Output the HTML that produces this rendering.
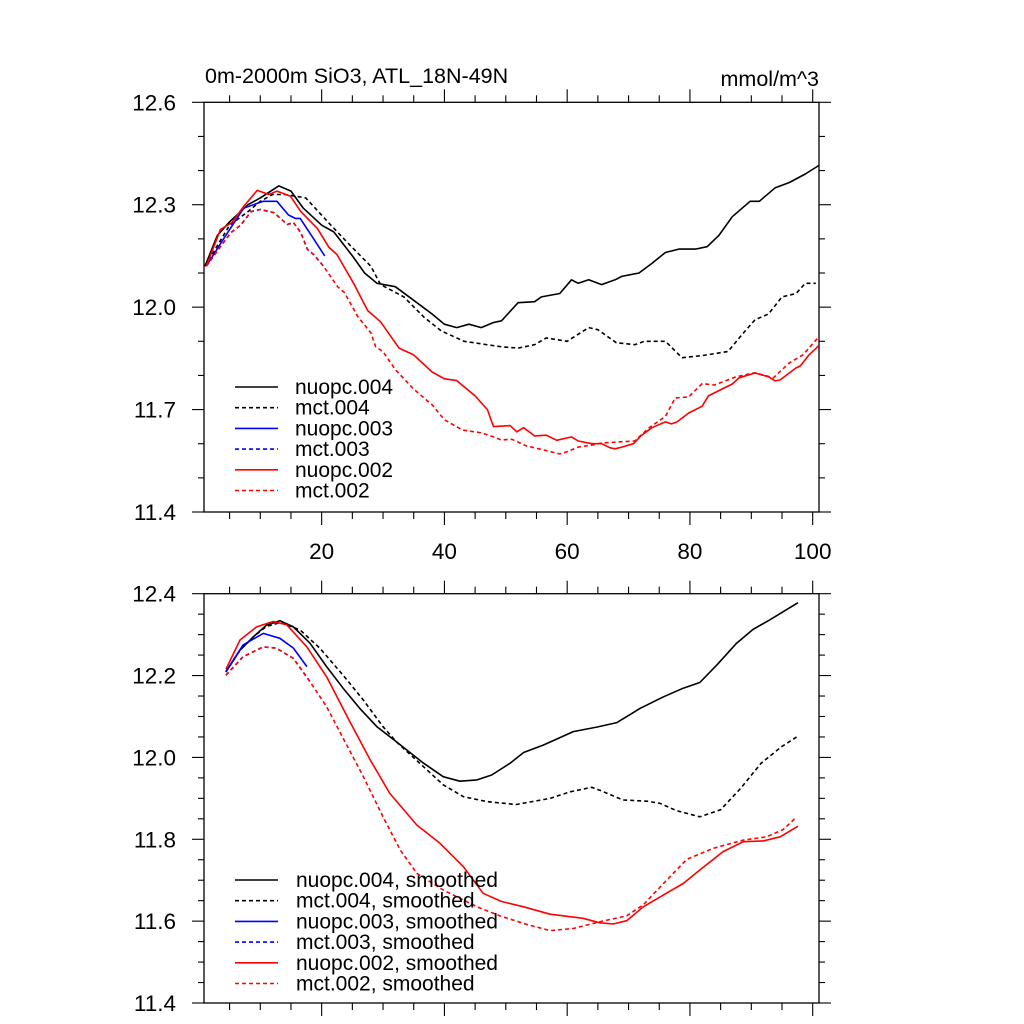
<!DOCTYPE html>
<html><head><meta charset="utf-8"><style>
html,body{margin:0;padding:0;background:#fff;}
svg{display:block;font-family:"Liberation Sans",Arial,sans-serif;}
</style></head><body>
<svg id="chart" width="1024" height="1024" viewBox="0 0 1024 1024" xmlns="http://www.w3.org/2000/svg">
<text x="205" y="83" font-size="21.5">0m-2000m SiO3, ATL_18N-49N</text>
<text x="819" y="86" font-size="21.5" text-anchor="end">mmol/m^3</text>
<g id="top"></g>
<g id="bot"></g>
</svg>
<script>
// ---- data: top panel (annual) ----
const nu4Yr=[1,3,5,8,10,13,15,17,20,22,25,27,29,32,35,38,40,42,44,46,48,49.3,52,54.7,55.8,58.8,60.7,61.8,63.5,65.6,67.8,68.9,71.7,73.8,76,78.2,80.9,82.8,84.7,86.9,89.8,91.3,93.9,96.2,98.8,101];
const nu4Val=[12.12,12.21,12.25,12.30,12.32,12.355,12.34,12.29,12.24,12.22,12.15,12.10,12.07,12.06,12.02,11.98,11.95,11.94,11.95,11.94,11.955,11.96,12.013,12.016,12.03,12.04,12.08,12.07,12.08,12.066,12.08,12.09,12.10,12.128,12.16,12.17,12.17,12.177,12.21,12.265,12.31,12.31,12.35,12.365,12.39,12.415];
const mc4Yr=[1,5,8,10,12,14,17.4,21.5,24.7,28,29.6,33.4,36.7,39.5,43.2,49.3,52,54.7,56.6,60,63.5,65,68,71,72.6,76,78.7,82,86.2,88.5,90.6,92.8,95,97.3,98.8,100.5];
const mc4Val=[12.12,12.24,12.28,12.31,12.33,12.33,12.32,12.24,12.18,12.12,12.066,12.03,11.97,11.93,11.90,11.884,11.88,11.89,11.91,11.90,11.94,11.934,11.896,11.89,11.90,11.90,11.852,11.858,11.87,11.92,11.963,11.98,12.03,12.04,12.07,12.07];
const nu3Yr=[1.2,4,7.3,10.5,12.7,14.6,15.7,16.5,18.7,20.5];
const nu3Val=[12.12,12.20,12.29,12.31,12.31,12.27,12.26,12.26,12.20,12.15];
const nu2Yr=[1.2,3.5,5.4,7.3,9.5,11.4,12.7,14.9,16.6,19.3,21.2,22.5,25.2,27.5,29.6,32.6,35,38,40,42,45,47,48,50.7,51.8,52.9,54.7,56.6,58.3,60.7,61.8,64,65.6,67,67.8,68.9,70.8,72,73.8,76,77,77.9,79.8,82,83,85.2,86.9,88,90.6,92.8,93.9,94.7,97.3,98,99.4,101];
const nu2Val=[12.12,12.227,12.248,12.295,12.342,12.33,12.34,12.325,12.28,12.23,12.175,12.154,12.07,11.99,11.957,11.88,11.86,11.81,11.79,11.785,11.74,11.70,11.65,11.653,11.635,11.647,11.623,11.625,11.61,11.62,11.608,11.60,11.60,11.588,11.585,11.59,11.60,11.623,11.647,11.664,11.658,11.664,11.69,11.71,11.74,11.76,11.775,11.793,11.807,11.796,11.784,11.787,11.822,11.828,11.86,11.887];
const mc2Yr=[1.2,3.5,5.2,6.8,8.5,10,12.2,14.4,15.4,16.6,17.7,18.7,20.3,22.6,23.7,25.9,28,28.8,30,32,35,38,40,43,46,48,49.3,51,53.3,56.8,58.8,59.9,61.8,64,65.6,71,73.3,76,77.6,79.8,82,84,87.5,90.6,93.6,96.2,98.4,101];
const mc2Val=[12.12,12.177,12.218,12.24,12.28,12.286,12.277,12.242,12.248,12.218,12.169,12.154,12.12,12.06,12.043,11.972,11.925,11.884,11.87,11.817,11.76,11.714,11.67,11.64,11.632,11.62,11.611,11.613,11.594,11.579,11.57,11.576,11.59,11.596,11.602,11.608,11.646,11.68,11.734,11.737,11.776,11.772,11.796,11.808,11.793,11.837,11.86,11.913];
const mc3Yr=mc2Yr.slice(0,13);
const mc3Val=mc2Val.slice(0,13);
// ---- data: bottom panel (smoothed) ----
const snu4Yr=[4.4,6.7,8.9,11,13.2,15.4,18.1,20.8,23.5,26.2,29,32.2,36.6,39.8,42.5,45.3,47.7,50.7,52.9,56.1,61,64.8,68.1,71.9,75.7,78.9,81.6,84.4,87.6,90.3,93,95.2,97.6];
const snu4Val=[12.209,12.262,12.295,12.323,12.334,12.319,12.279,12.222,12.169,12.12,12.075,12.038,11.986,11.953,11.942,11.945,11.957,11.986,12.012,12.03,12.063,12.074,12.085,12.12,12.148,12.169,12.183,12.226,12.279,12.313,12.336,12.356,12.378];
const smc4Yr=[4.4,6.7,8.9,11,13.4,16.5,19.7,23.5,26.8,30,32.2,36.6,39.8,43.1,46.9,51.7,57.2,60.5,64,65.3,69.1,73,75.1,77.8,81.6,85,88.3,91.6,94.9,97.6];
const smc4Val=[12.209,12.262,12.295,12.32,12.33,12.311,12.267,12.201,12.14,12.075,12.038,11.977,11.933,11.904,11.892,11.885,11.90,11.916,11.927,11.92,11.896,11.893,11.888,11.87,11.855,11.872,11.925,11.986,12.026,12.052];
const snu3Yr=[4.4,7.2,10.5,13.2,15.4,17.6];
const snu3Val=[12.21,12.275,12.303,12.291,12.267,12.222];
const snu2Yr=[4.4,6.7,9.4,12.1,14.3,17.6,20.8,24.6,27.9,31.1,35.5,39.3,43.1,46.3,49.3,52.9,57.2,62.6,65.3,67.5,69.7,72.4,75.7,78.9,81.6,85.4,88.7,92,94.7,97.6];
const snu2Val=[12.215,12.287,12.319,12.332,12.324,12.27,12.197,12.087,11.994,11.912,11.835,11.79,11.733,11.668,11.648,11.635,11.617,11.607,11.596,11.593,11.601,11.635,11.664,11.692,11.725,11.77,11.794,11.796,11.806,11.832];
const smc2Yr=[4.4,7.2,10.5,12.6,15.4,18.1,20.8,23.5,26.8,30,32.8,35.5,39.8,45.3,49,53.4,57.2,61,65.5,69.7,72.4,76.2,79.5,83.8,88.7,92.5,95.2,97.4];
const smc2Val=[12.201,12.246,12.27,12.267,12.242,12.185,12.124,12.047,11.953,11.855,11.774,11.717,11.676,11.635,11.613,11.592,11.577,11.582,11.599,11.613,11.64,11.70,11.751,11.778,11.798,11.806,11.824,11.855];
const smc3Yr=smc2Yr.slice(0,6);
const smc3Val=smc2Val.slice(0,6);
const xMajor=[20,40,60,80,100];
const topYMajor=[12.6,12.3,12.0,11.7,11.4];
const topYLabels=["12.6","12.3","12.0","11.7","11.4"];
const botYMajor=[12.4,12.2,12.0,11.8,11.6,11.4];
const botYLabels=["12.4","12.2","12.0","11.8","11.6","11.4"];
const topLegend=["nuopc.004","mct.004","nuopc.003","mct.003","nuopc.002","mct.002"];
const botLegend=["nuopc.004, smoothed","mct.004, smoothed","nuopc.003, smoothed","mct.003, smoothed","nuopc.002, smoothed","mct.002, smoothed"];

const NS="http://www.w3.org/2000/svg";
const L=204,R=819;
const xS=yr=>198.9+6.138*yr;
function mk(tag,parent,attrs){const e=document.createElementNS(NS,tag);for(const k in attrs)e.setAttribute(k,attrs[k]);parent.appendChild(e);return e;}

function panel(g,top,bottom,vmax,vmin,minorStep,yMajor,yLabels,showX,series,legend,legY,legText,prefix){
  const yS=v=>top+(vmax-v)/(vmax-vmin)*(bottom-top);
  const fr=mk('rect',g,{x:L,y:top,width:R-L,height:bottom-top,fill:'none',stroke:'#000','stroke-width':1.3});
  
  
  const n=Math.round((vmax-vmin)/minorStep);
  for(let i=0;i<=n;i++){
    const v=vmax-i*minorStep, y=yS(v);
    const major=yMajor.some(m=>Math.abs(m-v)<1e-6);
    const len=major?12:6;
    const t1=mk('line',g,{x1:L-len,x2:L,y1:y,y2:y,stroke:'#000','stroke-width':1.1});
    
    
    const t2=mk('line',g,{x1:R,x2:R+len,y1:y,y2:y,stroke:'#000','stroke-width':1.1});
    
    
  }
  yMajor.forEach((v,i)=>{
    const t=mk('text',g,{x:176,y:yS(v)+8,'font-size':22.5,'text-anchor':'end'});
    t.textContent=yLabels[i];
    
    
  });
  for(let yr=5;yr<=100;yr+=5){
    const x=xS(yr); const major=xMajor.includes(yr); const len=major?13:7;
    const a=mk('line',g,{x1:x,x2:x,y1:top-len,y2:top,stroke:'#000','stroke-width':1.1});
    
    
    const b=mk('line',g,{x1:x,x2:x,y1:bottom,y2:bottom+len,stroke:'#000','stroke-width':1.1});
    
    
  }
  if(showX){
    xMajor.forEach(v=>{
      const t=mk('text',g,{x:xS(v),y:bottom+47,'font-size':22.5,'text-anchor':'middle'});
      t.textContent=String(v);
      
      
    });
  }
  series.forEach((s,i)=>{
    const d=s.yr.map((yr,j)=>(j?'L':'M')+xS(yr).toFixed(1)+','+yS(s.v[j]).toFixed(1)).join(' ');
    const p=mk('path',g,{d:d,fill:'none',stroke:s.c,'stroke-width':1.6,'stroke-linejoin':'round'});
    if(s.dash)p.setAttribute('stroke-dasharray','4 3');
    
    
  });
  legend.forEach((lab,i)=>{
    const s=series[i]; const y=legY+i*20.7;
    const ln=mk('line',g,{x1:235,x2:278,y1:y,y2:y,stroke:s.c,'stroke-width':1.6});
    if(s.dash)ln.setAttribute('stroke-dasharray','4 3');
    
    
    const t=mk('text',g,{x:legText,y:y+7,'font-size':21});
    t.textContent=lab;
    
    
  });
}
const topSeries=[
 {n:'nuopc-004',yr:nu4Yr,v:nu4Val,c:'#000',dash:false},
 {n:'mct-004',yr:mc4Yr,v:mc4Val,c:'#000',dash:true},
 {n:'nuopc-003',yr:nu3Yr,v:nu3Val,c:'#0000ff',dash:false},
 {n:'mct-003',yr:mc3Yr,v:mc3Val,c:'#0000ff',dash:true},
 {n:'nuopc-002',yr:nu2Yr,v:nu2Val,c:'#ff0000',dash:false},
 {n:'mct-002',yr:mc2Yr,v:mc2Val,c:'#ff0000',dash:true}];
const botSeries=[
 {n:'nuopc-004',yr:snu4Yr,v:snu4Val,c:'#000',dash:false},
 {n:'mct-004',yr:smc4Yr,v:smc4Val,c:'#000',dash:true},
 {n:'nuopc-003',yr:snu3Yr,v:snu3Val,c:'#0000ff',dash:false},
 {n:'mct-003',yr:smc3Yr,v:smc3Val,c:'#0000ff',dash:true},
 {n:'nuopc-002',yr:snu2Yr,v:snu2Val,c:'#ff0000',dash:false},
 {n:'mct-002',yr:smc2Yr,v:smc2Val,c:'#ff0000',dash:true}];
panel(document.getElementById('top'),102.3,512,12.6,11.4,0.1,topYMajor,topYLabels,true,topSeries,topLegend,387,295,'top-');
panel(document.getElementById('bot'),593.7,1003,12.4,11.4,0.05,botYMajor,botYLabels,false,botSeries,botLegend,880,296,'bottom-');
</script>
</body></html>
